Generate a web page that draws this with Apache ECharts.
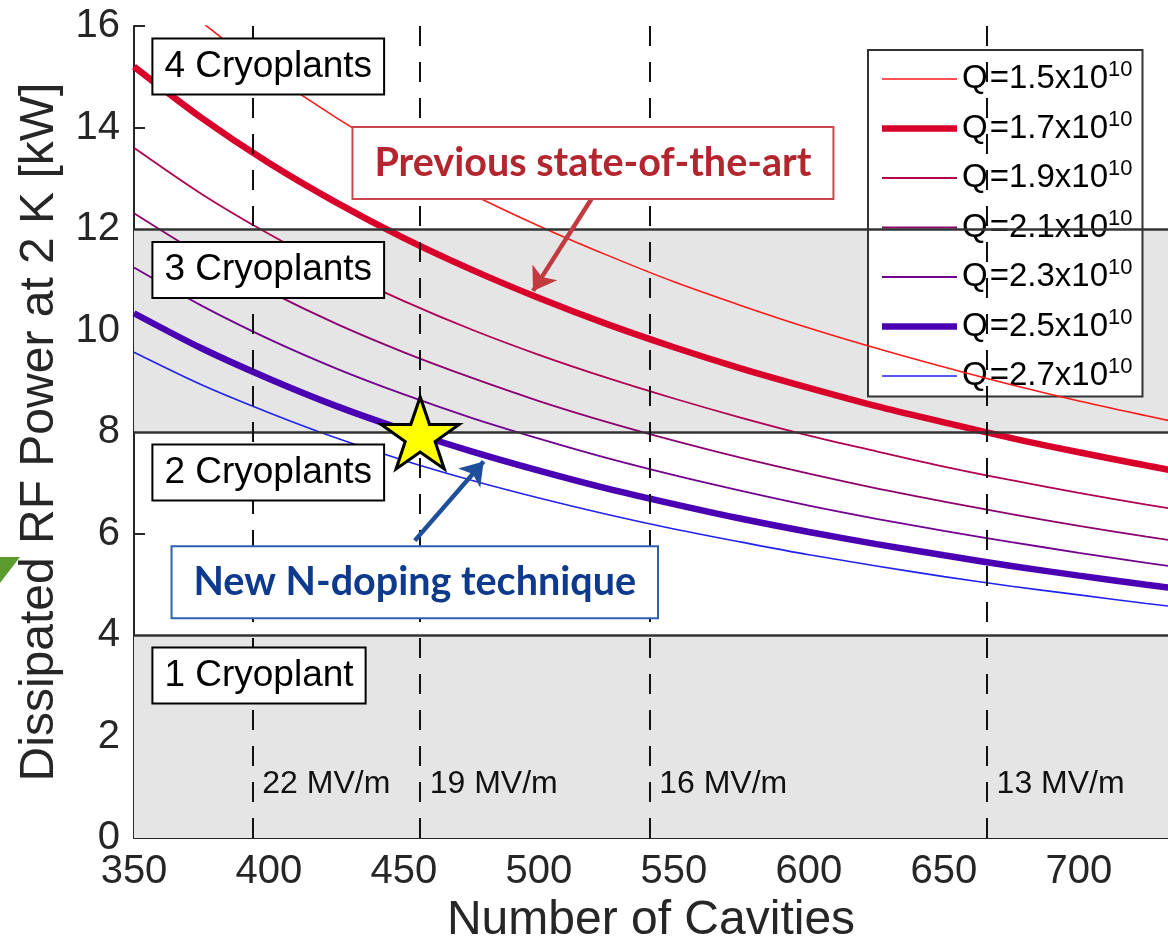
<!DOCTYPE html>
<html>
<head>
<meta charset="utf-8">
<script src="https://cdn.jsdelivr.net/npm/echarts@6/dist/echarts.min.js"></script>
<style>
html,body{margin:0;padding:0;background:#fff;}
#chart{width:1168px;height:950px;}
</style>
</head>
<body>
<div id="chart"></div>
<script>
// ---- data ----
const cavities = [350, 375, 400, 425, 450, 475, 500, 525, 550, 575, 600, 625, 650, 675, 700, 725, 750];
const qNames = ['1.5', '1.7', '1.9', '2.1', '2.3', '2.5', '2.7'];
const q15 = [17.23, 16.08, 15.08, 14.19, 13.40, 12.69, 12.06, 11.49, 10.96, 10.49, 10.05, 9.65, 9.28, 8.93, 8.61, 8.32, 8.04];
const q17 = [15.20, 14.19, 13.30, 12.52, 11.82, 11.20, 10.64, 10.13, 9.67, 9.25, 8.87, 8.51, 8.19, 7.88, 7.60, 7.34, 7.09];
const q19 = [13.60, 12.69, 11.90, 11.20, 10.58, 10.02, 9.52, 9.07, 8.66, 8.28, 7.93, 7.62, 7.32, 7.05, 6.80, 6.57, 6.35];
const q21 = [12.31, 11.49, 10.77, 10.13, 9.57, 9.07, 8.61, 8.20, 7.83, 7.49, 7.18, 6.89, 6.63, 6.38, 6.15, 5.94, 5.74];
const q23 = [11.24, 10.49, 9.83, 9.25, 8.74, 8.28, 7.87, 7.49, 7.15, 6.84, 6.55, 6.29, 6.05, 5.83, 5.62, 5.42, 5.24];
const q25 = [10.34, 9.65, 9.05, 8.51, 8.04, 7.62, 7.24, 6.89, 6.58, 6.29, 6.03, 5.79, 5.57, 5.36, 5.17, 4.99, 4.82];
const q27 = [9.57, 8.93, 8.38, 7.88, 7.44, 7.05, 6.70, 6.38, 6.09, 5.83, 5.58, 5.36, 5.15, 4.96, 4.79, 4.62, 4.47];
const qSeries = [q15, q17, q19, q21, q23, q25, q27];

const xTicks = [350, 400, 450, 500, 550, 600, 650, 700];
const yTicks = [0, 2, 4, 6, 8, 10, 12, 14, 16];
const yVisibleTicks = [6, 14, 16];

const gradientCavities = [394, 456, 541, 666];
const gradientLabels = ['22 MV/m', '19 MV/m', '16 MV/m', '13 MV/m'];
const gradientLabelY = 1.07;

const plantLimits = [4, 8, 12];
const grayBands = [[0, 4], [8, 12]];
const plantLabels = ['4 Cryoplants', '3 Cryoplants', '2 Cryoplants', '1 Cryoplant'];
const plantLabelY = [15.2, 11.19, 7.2, 3.2];
const plantLabelX = 357;

const starPoint = [456, 7.98];
const prevLabel = 'Previous state-of-the-art';
const prevLabelPos = [520, 13.30];
const prevArrow = [[520, 12.64], [497.8, 10.78]];
const newLabel = 'New N-doping technique';
const newLabelPos = [454, 5.04];
const newArrow = [[454, 5.86], [479.5, 7.42]];

// ---- styles ----
const qColors = ['#ff1a1a', '#d8002a', '#b0004f', '#8c006e', '#72008f', '#4a00b2', '#2222ee'];
const qWidths = [1.6, 6.5, 1.8, 1.8, 1.8, 6.5, 1.6];
const font = 'Liberation Sans, Arial, Helvetica, sans-serif';
const legendIcon = w => 'path://M0,0 M75,14 M0,' + (7 - w / 2) + ' L75,' + (7 - w / 2) + ' L75,' + (7 + w / 2) + ' L0,' + (7 + w / 2) + ' Z';

const chart = echarts.init(document.getElementById('chart'), null, {renderer: 'canvas'});

const series = [];
qSeries.forEach((vals, i) => {
  series.push({
    name: 'Q=' + qNames[i] + 'x10',
    type: 'line',
    data: cavities.map((c, j) => [c, vals[j]]),
    smooth: 0.3,
    showSymbol: false,
    symbol: 'none',
    z: 4,
    lineStyle: {color: qColors[i], width: qWidths[i]},
    itemStyle: {color: qColors[i]}
  });
});

const hidden = {color: 'transparent', opacity: 1};

series.push({
  name: 'bg',
  type: 'scatter',
  z: 2,
  symbolSize: 1,
  itemStyle: hidden,
  data: gradientCavities.map((c, i) => ({value: [c, gradientLabelY], name: gradientLabels[i]})),
  label: {
    show: true, position: 'right', distance: 9,
    formatter: p => p.name,
    fontFamily: font, fontSize: 32, color: '#111'
  },
  markArea: {
    silent: true,
    itemStyle: {color: '#e5e5e5'},
    data: grayBands.map(b => [{yAxis: b[0]}, {yAxis: b[1]}])
  },
  markLine: {
    silent: true,
    symbol: ['none', 'none'],
    label: {show: false},
    data: [
      ...plantLimits.map(v => ({yAxis: v, lineStyle: {color: '#333', width: 2.5, type: 'solid'}})),
      ...gradientCavities.map(c => ({xAxis: c, lineStyle: {color: '#111', width: 2, type: [20, 16]}}))
    ]
  }
});

series.push({
  name: 'plants',
  type: 'scatter',
  z: 6,
  symbolSize: 1,
  itemStyle: hidden,
  data: plantLabels.map((t, i) => ({value: [plantLabelX, plantLabelY[i]], name: t})),
  label: {
    show: true, position: 'right', distance: 0,
    formatter: p => p.name,
    fontFamily: font, fontSize: 37, color: '#000', lineHeight: 42,
    backgroundColor: '#fff', borderColor: '#000', borderWidth: 2,
    padding: [6, 11, 6, 11]
  }
});

series.push({
  name: 'annot',
  type: 'scatter',
  z: 7,
  symbolSize: 1,
  itemStyle: hidden,
  data: [
    {value: prevLabelPos, name: prevLabel, label: {color: '#b3262f', borderColor: '#c8464c'}},
    {value: newLabelPos, name: newLabel, label: {color: '#0d3a8c', borderColor: '#2a62b0'}}
  ],
  label: {
    show: true, position: 'inside',
    formatter: p => p.name,
    fontFamily: 'Lato, Open Sans, sans-serif', fontWeight: 'bold', fontSize: 39.5, lineHeight: 44,
    backgroundColor: '#fff', borderWidth: 2,
    padding: [13, 21, 13, 21]
  },
  markLine: {
    silent: true,
    symbol: ['none', 'arrow'],
    symbolSize: 22,
    label: {show: false},
    data: [
      [{coord: prevArrow[0], symbol: 'none', lineStyle: {color: '#c13a40', width: 4.5, type: 'solid'}, itemStyle: {color: '#c13a40'}},
       {coord: prevArrow[1], symbol: 'arrow', symbolSize: 22}],
      [{coord: newArrow[0], symbol: 'none', lineStyle: {color: '#1f4f9c', width: 4.5, type: 'solid'}, itemStyle: {color: '#1f4f9c'}},
       {coord: newArrow[1], symbol: 'arrow', symbolSize: 22}]
    ]
  }
});

series.push({
  name: 'star',
  type: 'scatter',
  z: 9,
  symbol: 'path://M50,0 L61.8,35.1 L98.9,35.1 L68.8,56.9 L80.2,91.9 L50,70.3 L19.8,91.9 L31.2,56.9 L1.1,35.1 L38.2,35.1 Z',
  symbolSize: [78, 72],
  itemStyle: {color: '#ffff00', borderColor: '#000', borderWidth: 3, opacity: 1},
  data: [starPoint]
});

const option = {
  animation: false,
  backgroundColor: '#fff',
  grid: {left: 134, right: 0, top: 26, bottom: 105, containLabel: false},
  xAxis: {
    type: 'value', min: 350, max: 733, interval: 50,
    name: 'Number of Cavities', nameLocation: 'middle', nameGap: 59,
    nameTextStyle: {fontFamily: font, fontSize: 48, color: '#262626'},
    axisLine: {show: true, onZero: false, lineStyle: {color: '#262626', width: 2}},
    axisTick: {show: false},
    splitLine: {show: false},
    axisLabel: {
      fontFamily: font, fontSize: 40, color: '#262626', margin: 14,
      showMaxLabel: false,
      formatter: v => (xTicks.includes(v) ? String(v) : '')
    }
  },
  yAxis: {
    type: 'value', min: 0, max: 16, interval: 2,
    name: 'Dissipated RF Power at 2 K [kW]', nameLocation: 'middle', nameGap: 70,
    nameTextStyle: {fontFamily: font, fontSize: 48, color: '#262626'},
    axisLine: {show: true, lineStyle: {color: '#262626', width: 2}},
    axisTick: {show: true, inside: true, length: 11, customValues: yVisibleTicks, lineStyle: {color: '#262626', width: 2}},
    splitLine: {show: false},
    axisLabel: {
      fontFamily: font, fontSize: 40, color: '#262626', margin: 14,
      formatter: v => (yTicks.includes(v) ? String(v) : '')
    }
  },
  legend: {
    data: qNames.map((q, i) => ({
      name: 'Q=' + q + 'x10',
      icon: legendIcon(qWidths[i]),
      itemStyle: {color: qColors[i], borderWidth: 0}
    })),
    orient: 'vertical',
    left: 868, top: 50,
    padding: [9, 10, 4, 14],
    itemGap: 13,
    itemWidth: 75, itemHeight: 14,
    selectedMode: false,
    backgroundColor: '#fff',
    borderColor: '#333', borderWidth: 2,
    formatter: name => '{q|Q}{b|' + name.slice(1) + '}{s|10}',
    textStyle: {
      fontFamily: font, color: '#000',
      rich: {
        q: {fontFamily: font, fontSize: 33, lineHeight: 40, color: '#000', padding: [0, 2, 0, 0]},
        b: {fontFamily: font, fontSize: 33, lineHeight: 40, color: '#000'},
        s: {fontFamily: font, fontSize: 22, lineHeight: 22, verticalAlign: 'top', color: '#000'}
      }
    }
  },
  graphic: [{
    type: 'polygon',
    shape: {points: [[0, 557], [20, 557], [0, 583]]},
    style: {fill: '#5c9c2e'}
  }],
  series: series
};

chart.setOption(option);
</script>
</body>
</html>
